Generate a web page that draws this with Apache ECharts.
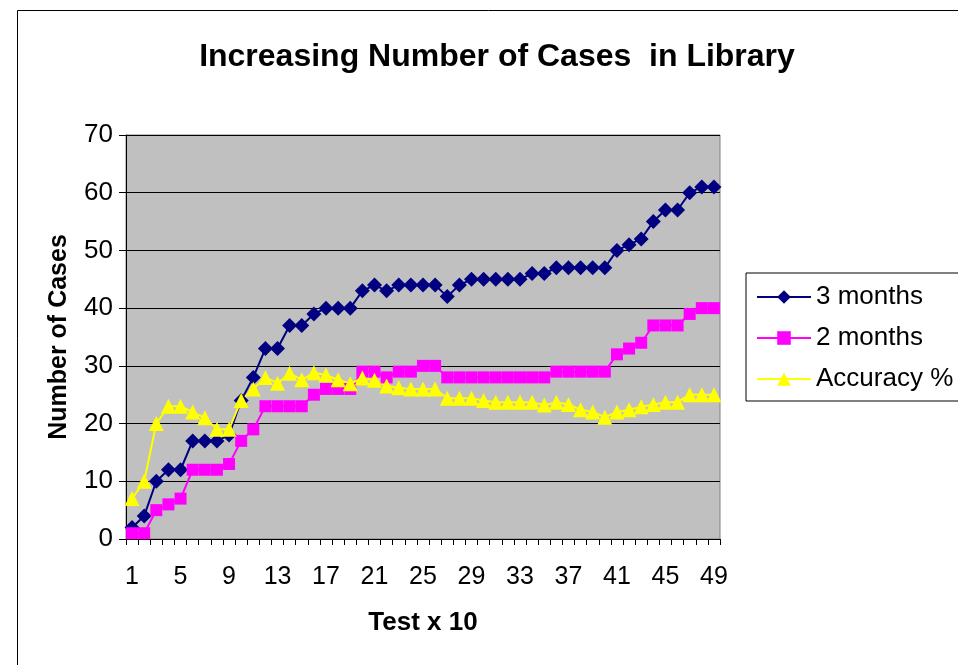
<!DOCTYPE html>
<html>
<head>
<meta charset="utf-8">
<script src="https://cdn.jsdelivr.net/npm/echarts@6/dist/echarts.min.js"></script>
<style>
  html, body { margin: 0; padding: 0; background: #fff; }
  #chart { width: 958px; height: 665px; }
</style>
</head>
<body>
<div id="chart"></div>
<script>
// Test runs (x 10)
const tests = Array.from({ length: 49 }, (_, i) => String(i + 1));

const threeMonths = [2, 4, 10, 12, 12, 17, 17, 17, 18, 24,
  28, 33, 33, 37, 37, 39, 40, 40, 40, 43,
  44, 43, 44, 44, 44, 44, 42, 44, 45, 45,
  45, 45, 45, 46, 46, 47, 47, 47, 47, 47,
  50, 51, 52, 55, 57, 57, 60, 61, 61];

const twoMonths = [1, 1, 5, 6, 7, 12, 12, 12, 13, 17,
  19, 23, 23, 23, 23, 25, 26, 26, 26, 29,
  29, 28, 29, 29, 30, 30, 28, 28, 28, 28,
  28, 28, 28, 28, 28, 29, 29, 29, 29, 29,
  32, 33, 34, 37, 37, 37, 39, 40, 40];

const accuracy = [7, 10, 20, 23, 23, 22, 21, 19, 19, 24,
  26, 28, 27, 28.7, 27.6, 28.8, 28.4, 27.6, 26.9, 27.9,
  27.5, 26.5, 26.2, 26, 26, 26, 24.4, 24.4, 24.4, 24,
  23.7, 23.7, 23.7, 23.7, 23.2, 23.7, 23.3, 22.4, 22, 21.1,
  22, 22.4, 22.9, 23.3, 23.7, 23.7, 25, 25, 25];

const font = 'Arial, "Liberation Sans", sans-serif';

const chart = echarts.init(document.getElementById('chart'), null, { renderer: 'canvas' });

function lineSeries(name, data, color, symbol, size) {
  return {
    name, type: 'line', data,
    symbol, symbolSize: size,
    showAllSymbol: true,
    lineStyle: { color, width: 2 },
    itemStyle: { color },
    animation: false
  };
}

chart.setOption({
  backgroundColor: '#ffffff',
  animation: false,
  title: {
    text: 'Increasing Number of Cases  in Library',
    left: 492, top: 36, textAlign: 'center',
    textStyle: { fontFamily: font, fontSize: 32, fontWeight: 'bold', color: '#000' }
  },
  graphic: [{
    type: 'rect', silent: true, z: -1,
    shape: { x: 17.5, y: 10.5, width: 1000, height: 700 },
    style: { fill: 'none', stroke: '#000', lineWidth: 1 }
  }],
  legend: {
    left: 746, top: 273,
    orient: 'vertical',
    padding: [11, 60, 9, 10],
    itemGap: 15,
    itemWidth: 54, itemHeight: 17,
    borderColor: '#000', borderWidth: 1,
    backgroundColor: '#fff',
    textStyle: { fontFamily: font, fontSize: 26, color: '#000' },
    data: ['3 months', '2 months', 'Accuracy %']
  },
  grid: {
    left: 126, right: 238, top: 135, bottom: 126,
    show: true, backgroundColor: '#C0C0C0', borderColor: '#808080', borderWidth: 1
  },
  xAxis: {
    type: 'category', data: tests, boundaryGap: true,
    name: 'Test x 10', nameLocation: 'middle', nameGap: 71,
    nameTextStyle: { fontFamily: font, fontSize: 26, fontWeight: 'bold', color: '#000' },
    axisLine: { lineStyle: { color: '#000', width: 1 } },
    axisTick: { show: true, interval: 0, length: 6, lineStyle: { color: '#000' } },
    axisLabel: { interval: 3, fontFamily: font, fontSize: 25, color: '#000', margin: 26 },
    splitLine: { show: false }
  },
  yAxis: {
    type: 'value', min: 0, max: 70, interval: 10,
    name: 'Number of Cases', nameLocation: 'middle', nameGap: 54,
    nameTextStyle: { fontFamily: font, fontSize: 25, fontWeight: 'bold', color: '#000' },
    axisLine: { show: true, lineStyle: { color: '#000', width: 1 } },
    axisTick: { show: true, length: 7, lineStyle: { color: '#000' } },
    axisLabel: { fontFamily: font, fontSize: 26, color: '#000', margin: 13 },
    splitLine: { show: true, lineStyle: { color: '#000', width: 1 } }
  },
  series: [
    lineSeries('3 months', threeMonths, '#000080', 'diamond', 15),
    lineSeries('2 months', twoMonths, '#FF00FF', 'rect', 12),
    lineSeries('Accuracy %', accuracy, '#FFFF00', 'triangle', 15)
  ]
});
</script>
</body>
</html>
